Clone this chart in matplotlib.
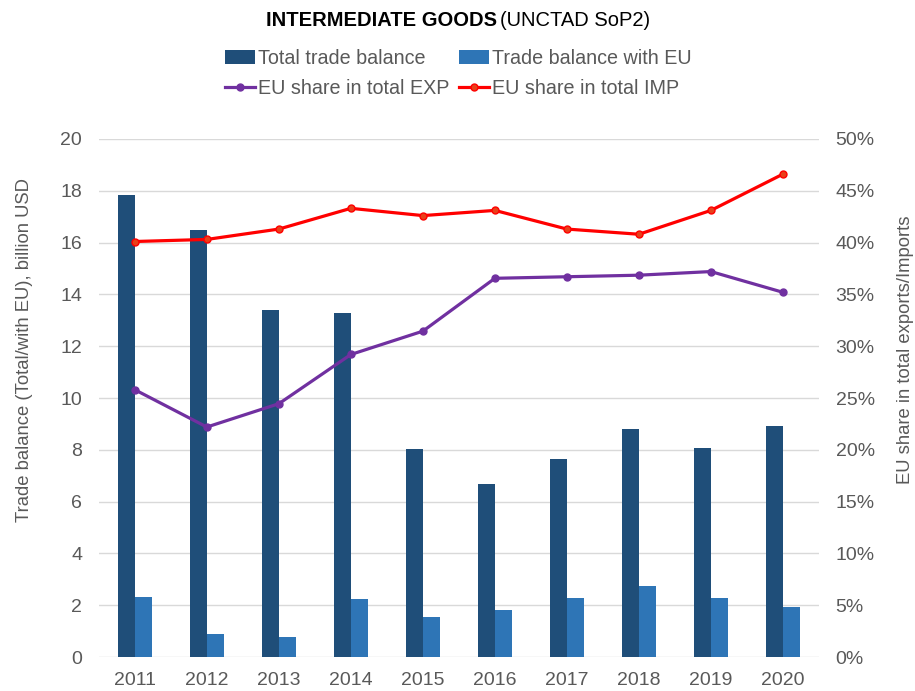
import matplotlib.pyplot as plt
import numpy as np
from matplotlib.ticker import FuncFormatter

plt.rcParams['font.family'] = ['Liberation Sans', 'DejaVu Sans']

years = ['2011', '2012', '2013', '2014', '2015', '2016', '2017', '2018', '2019', '2020']
total_balance = [17.83, 16.49, 13.40, 13.29, 8.04, 6.70, 7.64, 8.79, 8.09, 8.92]
eu_balance = [2.33, 0.90, 0.77, 2.24, 1.54, 1.83, 2.28, 2.73, 2.28, 1.92]
eu_share_exp = [25.8, 22.2, 24.45, 29.2, 31.45, 36.55, 36.7, 36.85, 37.2, 35.2]
eu_share_imp = [40.1, 40.3, 41.3, 43.3, 42.6, 43.1, 41.3, 40.8, 43.1, 46.6]

c_total = '#1F4E79'
c_eu = '#2E75B6'
c_exp = '#7030A0'
c_imp = '#FF0000'
grey = '#595959'

fig = plt.figure(figsize=(9.15, 6.91), dpi=100)
ax = fig.add_axes([0.108, 0.049, 0.787, 0.750])
ax2 = ax.twinx()

x = np.arange(len(years))
w = 0.233
b1 = ax.bar(x - w / 2, total_balance, w, color=c_total, label='Total trade balance', zorder=2)
b2 = ax.bar(x + w / 2, eu_balance, w, color=c_eu, label='Trade balance with EU', zorder=2)

l1, = ax2.plot(x, eu_share_exp, color=c_exp, lw=2.3, marker='o', ms=5, label='EU share in total EXP')
l2, = ax2.plot(x, eu_share_imp, color=c_imp, lw=2.3, marker='o', ms=5,
               markerfacecolor='#E8401A', markeredgecolor='#FF0000', label='EU share in total IMP')

ax.set_xlim(-0.5, len(years) - 0.5)
ax.set_ylim(0, 20)
ax.set_yticks(range(0, 21, 2))
ax2.set_ylim(0, 50)
ax2.set_yticks(range(0, 51, 5))
ax2.yaxis.set_major_formatter(FuncFormatter(lambda v, p: f'{v:.0f}%'))

ax.set_xticks(x)
ax.set_xticklabels(years)
ax.grid(axis='y', color='#D9D9D9', lw=1, zorder=0)
ax.set_axisbelow(True)

for a in (ax, ax2):
    for s in a.spines.values():
        s.set_visible(False)
    a.tick_params(length=0, labelsize=14, colors=grey)
ax.tick_params(axis='y', pad=12)
ax.tick_params(axis='x', pad=11)
ax2.tick_params(axis='y', pad=12)

ax.set_ylabel('Trade balance (Total/with EU), billion USD', fontsize=13.3, color=grey)
ax2.set_ylabel('EU share in total exports/Imports', fontsize=13.3, color=grey)
ax.yaxis.set_label_coords(-0.092, 0.593)
ax2.yaxis.set_label_coords(1.108, 0.593)

# title: bold part then regular part
t1 = fig.text(0.291, 0.971, 'INTERMEDIATE GOODS', fontsize=14.5, fontweight='bold', ha='left', va='center')
fig.canvas.draw()
bb = t1.get_window_extent()
fig.text(bb.x1 / fig.bbox.width + 0.003, 0.971, '(UNCTAD SoP2)', fontsize=14.5, ha='left', va='center')

fig.legend(handles=[b1, l1, b2, l2], ncol=2, loc='upper center', bbox_to_anchor=(0.501, 0.955),
           frameon=False, fontsize=14.2, labelcolor=grey, handlelength=1.5, handletextpad=0.15,
           columnspacing=0.5, labelspacing=0.55)

fig.savefig('out.png', dpi=100)
